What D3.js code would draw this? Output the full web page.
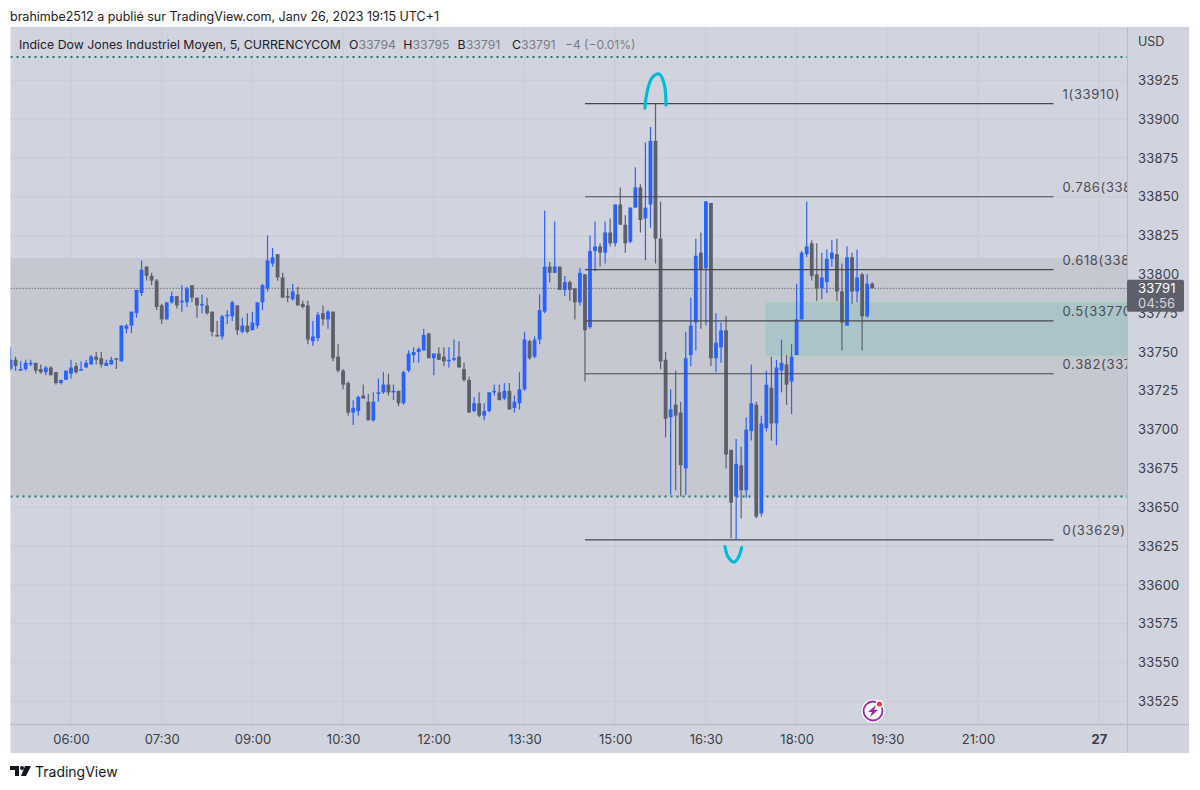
<!DOCTYPE html>
<html>
<head>
<meta charset="utf-8">
<script src="https://cdn.jsdelivr.net/npm/d3@7"></script>
<style>
  html, body { margin: 0; padding: 0; background: #fff; }
  text { font-family: Inter, "Noto Sans", sans-serif; }
</style>
</head>
<body>
<script>
// 5 minute bars from 05:00 to 19:15
let opens = [
  33739,33745,33738,33739,33742,33743,33739,33737,33740,33737,
  33730,33732,33736,33741,33738,33740,33742,33747,33746,33741,
  33742,33746,33744,33765,33767,33775,33788,33805,33799,33796,
  33780,33771,33782,33786,33782,33782,33793,33785,33780,33780,
  33776,33761,33760,33773,33773,33780,33763,33767,33764,33767,
  33782,33791,33807,33813,33798,33786,33784,33787,33781,33780,
  33757,33759,33775,33771,33776,33747,33738,33730,33711,33712,
  33722,33718,33706,33723,33724,33729,33724,33725,33717,33738,
  33748,33750,33751,33762,33746,33749,33747,33744,33745,33747,
  33739,33732,33712,33717,33709,33712,33724,33724,33720,33725,
  33714,33717,33726,33757,33747,33758,33776,33805,33801,33805,
  33790,33795,33791,33782,33800,33766,33815,33818,33814,33827,
  33820,33845,33832,33821,33843,33856,33836,33845,33886,33823,
  33745,33708,33716,33711,33675,33748,33769,33814,33804,33846,
  33746,33753,33764,33687,33657,33677,33661,33699,33716,33646,
  33701,33727,33704,33738,33742,33731,33748,33771,33813,33820,
  33800,33791,33795,33810,33813,33789,33767,33811,33789,33800,
  33773,33794
];
let highs = [
  33753,33747,33744,33745,33745,33743,33742,33741,33741,33737,
  33732,33738,33745,33743,33744,33745,33748,33750,33750,33745,
  33747,33746,33767,33768,33776,33790,33809,33805,33801,33797,
  33781,33782,33789,33786,33793,33792,33793,33785,33787,33785,
  33776,33770,33774,33777,33783,33780,33772,33775,33776,33782,
  33794,33825,33817,33813,33801,33791,33794,33792,33783,33783,
  33770,33776,33780,33777,33776,33755,33739,33731,33719,33722,
  33729,33723,33724,33733,33737,33736,33729,33725,33738,33751,
  33753,33753,33765,33762,33749,33753,33753,33753,33758,33757,
  33743,33734,33721,33724,33717,33724,33729,33729,33730,33730,
  33722,33737,33763,33758,33760,33787,33841,33808,33834,33805,
  33799,33796,33791,33804,33800,33825,33834,33820,33834,33836,
  33845,33856,33838,33843,33869,33858,33885,33895,33910,33847,
  33750,33726,33738,33718,33763,33785,33823,33827,33847,33846,
  33775,33769,33773,33687,33694,33689,33708,33742,33718,33709,
  33738,33747,33745,33758,33748,33755,33794,33815,33847,33822,
  33820,33814,33816,33822,33823,33807,33818,33814,33816,33801,
  33800,33795
];
let lows = [
  33738,33738,33738,33738,33741,33736,33736,33735,33735,33729,
  33729,33732,33733,33736,33738,33740,33742,33742,33740,33741,
  33742,33739,33744,33762,33762,33772,33786,33796,33793,33777,
  33768,33771,33781,33778,33776,33779,33782,33772,33775,33774,
  33760,33760,33758,33768,33770,33761,33762,33762,33764,33765,
  33777,33789,33805,33796,33785,33782,33783,33780,33778,33755,
  33754,33757,33767,33765,33744,33737,33726,33709,33703,33709,
  33720,33706,33705,33718,33723,33722,33719,33715,33716,33737,
  33743,33743,33751,33746,33735,33745,33741,33740,33744,33740,
  33731,33711,33711,33708,33706,33711,33722,33719,33719,33713,
  33711,33713,33725,33745,33746,33755,33775,33795,33801,33790,
  33786,33783,33771,33780,33731,33765,33802,33805,33807,33818,
  33818,33832,33814,33820,33843,33827,33809,33830,33807,33739,
  33695,33658,33661,33657,33658,33741,33751,33765,33767,33741,
  33737,33743,33675,33630,33629,33643,33656,33693,33643,33644,
  33699,33693,33690,33724,33716,33710,33748,33771,33811,33796,
  33783,33784,33788,33805,33783,33751,33767,33781,33782,33751,
  33772,33791
];
let closes = [
  33745,33741,33739,33743,33743,33738,33737,33740,33735,33730,
  33732,33738,33740,33737,33739,33743,33747,33745,33742,33743,
  33745,33745,33767,33767,33776,33790,33803,33799,33796,33779,
  33771,33782,33786,33780,33783,33791,33785,33780,33781,33775,
  33763,33760,33773,33774,33782,33764,33767,33763,33769,33782,
  33793,33809,33811,33798,33785,33785,33789,33780,33779,33758,
  33760,33774,33771,33776,33746,33738,33729,33711,33714,33721,
  33720,33706,33718,33724,33729,33724,33725,33717,33737,33749,
  33750,33752,33761,33746,33749,33745,33744,33745,33746,33740,
  33732,33711,33717,33709,33712,33724,33725,33719,33725,33713,
  33718,33726,33758,33746,33758,33777,33805,33801,33805,33790,
  33795,33790,33782,33801,33764,33815,33818,33814,33827,33820,
  33845,33832,33820,33843,33856,33835,33843,33886,33823,33744,
  33707,33713,33709,33677,33746,33767,33812,33803,33847,33746,
  33756,33764,33684,33653,33678,33661,33700,33717,33644,33704,
  33729,33704,33740,33743,33729,33747,33771,33814,33818,33799,
  33791,33798,33810,33814,33789,33769,33811,33789,33798,33773,
  33794,33791
];

let priceTicks = [33525,33550,33575,33600,33625,33650,33675,33700,33725,33750,33775,33800,33825,33850,33875,33900,33925];
// minutes since midnight, "27" sits where the session break ends
let timeTicks = [360,450,540,630,720,810,900,990,1080,1170,1260,1380];
let timeLabels = ["06:00","07:30","09:00","10:30","12:00","13:30","15:00","16:30","18:00","19:30","21:00","27"];

let fibLevels = ["1","0.786","0.618","0.5","0.382","0"];
let fibPrices = [33910,33850,33803,33770,33736,33629];

let dottedLevels = [33940,33657];
let bandPrices = [33810.5,33657];
let zonePrices = [33782,33747.5];
let lastPrice = 33791;

// brush strokes over the swing high and swing low
let brushHighMin = [929.5,931.5,936.5,943.5,948.5,950.5];
let brushHighPx = [33907,33917,33926.5,33929,33923,33909];
let brushLowMin = [1009,1012,1018,1022.5,1025.5];
let brushLowPx = [33624.6,33618,33614.7,33618,33624];

let width = 1200;
let height = 790;
let left = 10.5;
let paneRight = 1127;
let panelRight = 1189;
let top_ = 27;
let paneBottom = 724;
let panelBottom = 753;

let bg = "#d1d4de";
let blue = "#2962ff";
let grey = "#5d606b";
let gridColour = "#c5c8d2";
let textColour = "#3b3e46";

let x = d3.scaleLinear().domain([360, 1260]).range([71, 978]);
let y = d3.scaleLinear().domain([33750, 33925]).range([352, 80.3]);
let barMinute = (i) => 300 + 5 * i;

let svg = d3.select("body").append("svg")
  .attr("width", width)
  .attr("height", height)
  .style("display", "block");

svg.append("clipPath").attr("id", "pane")
  .append("rect")
  .attr("x", left).attr("y", top_)
  .attr("width", paneRight - left).attr("height", paneBottom - top_);

svg.append("text").attr("x", 10).attr("y", 21)
  .attr("font-size", 12.5).attr("fill", "#1e2026")
  .text("brahimbe2512 a publié sur TradingView.com, Janv 26, 2023 19:15 UTC+1");

svg.append("rect")
  .attr("x", left).attr("y", top_)
  .attr("width", panelRight - left).attr("height", panelBottom - top_)
  .attr("fill", bg);

let pane = svg.append("g").attr("clip-path", "url(#pane)");

// darker band behind the candles
pane.append("rect")
  .attr("x", left).attr("width", paneRight - left)
  .attr("y", y(bandPrices[0]))
  .attr("height", y(bandPrices[1]) - y(bandPrices[0]))
  .attr("fill", "#c5c7d1");

// grid
pane.selectAll(".hgrid").data(priceTicks).join("line")
  .attr("x1", left).attr("x2", paneRight)
  .attr("y1", (d) => y(d)).attr("y2", (d) => y(d))
  .attr("stroke", gridColour).attr("stroke-opacity", 0.75);
pane.selectAll(".vgrid").data(timeTicks).join("line")
  .attr("x1", (d) => x(d)).attr("x2", (d) => x(d))
  .attr("y1", top_).attr("y2", paneBottom)
  .attr("stroke", gridColour).attr("stroke-opacity", 0.75);

// green zone
pane.append("rect")
  .attr("x", x(barMinute(150)) - 0.5)
  .attr("width", paneRight - x(barMinute(150)) + 1)
  .attr("y", y(zonePrices[0]))
  .attr("height", y(zonePrices[1]) - y(zonePrices[0]))
  .attr("fill", "#abc4c9")
  .attr("stroke", "#a6d2ae");

// dotted levels
pane.selectAll(".dots").data(dottedLevels).join("line")
  .attr("x1", left).attr("x2", paneRight)
  .attr("y1", (d) => y(d)).attr("y2", (d) => y(d))
  .attr("stroke", "#1c7a6a").attr("stroke-width", 2)
  .attr("stroke-dasharray", "2 4");

pane.append("line")
  .attr("x1", left).attr("x2", paneRight)
  .attr("y1", y(lastPrice)).attr("y2", y(lastPrice))
  .attr("stroke", "#6d7079").attr("stroke-dasharray", "1.5 1.5");

// candles
let bars = pane.selectAll(".bar").data(d3.range(opens.length)).join("g");
bars.append("line")
  .attr("x1", (i) => x(barMinute(i))).attr("x2", (i) => x(barMinute(i)))
  .attr("y1", (i) => y(highs[i])).attr("y2", (i) => y(lows[i]))
  .attr("stroke", (i) => (closes[i] >= opens[i] ? blue : grey))
  .attr("stroke-width", 1.2);
bars.append("rect")
  .attr("x", (i) => x(barMinute(i)) - 1.9)
  .attr("width", 3.8)
  .attr("y", (i) => y(Math.max(opens[i], closes[i])))
  .attr("height", (i) => Math.max(1, Math.abs(y(opens[i]) - y(closes[i]))))
  .attr("fill", (i) => (closes[i] >= opens[i] ? blue : grey));

// fib retracement, runs from bar 114 to 1054px
let fibStart = x(barMinute(114));
let fibEnd = x(barMinute(207));
pane.selectAll(".fib").data(fibPrices).join("line")
  .attr("x1", fibStart).attr("x2", fibEnd)
  .attr("y1", (d) => y(d)).attr("y2", (d) => y(d))
  .attr("stroke", "#45484f").attr("stroke-width", 1.2);
pane.selectAll(".fibLabel").data(fibPrices).join("text")
  .attr("x", fibEnd + 9)
  .attr("y", (d) => y(d) - 9.5)
  .attr("dy", "0.35em")
  .attr("font-size", 13)
  .attr("letter-spacing", 0.65)
  .attr("fill", "#4a4d55")
  .text((d, i) => `${fibLevels[i]}(${d})`);

// brush strokes
let brush = d3.line()
  .x((d) => x(d[0]))
  .y((d) => y(d[1]))
  .curve(d3.curveCatmullRom);
pane.append("path")
  .attr("d", brush(d3.zip(brushHighMin, brushHighPx)))
  .attr("fill", "none").attr("stroke", "#00bcd4")
  .attr("stroke-width", 3.2).attr("stroke-linecap", "round");
pane.append("path")
  .attr("d", brush(d3.zip(brushLowMin, brushLowPx)))
  .attr("fill", "none").attr("stroke", "#00bcd4")
  .attr("stroke-width", 3.2).attr("stroke-linecap", "round");

// axes
let yAxis = svg.append("g")
  .attr("transform", `translate(${paneRight},0)`)
  .call(d3.axisRight(y).tickValues(priceTicks).tickSize(0).tickPadding(11).tickFormat(d3.format("d")));
yAxis.select(".domain").attr("d", `M0.5,${top_}V${panelBottom}`).attr("stroke", "#b9bcc7");
yAxis.selectAll("text").attr("font-size", 13).attr("letter-spacing", 0.2).attr("fill", textColour).attr("font-family", null);

let xAxis = svg.append("g")
  .attr("transform", `translate(0,${paneBottom})`)
  .call(d3.axisBottom(x).tickValues(timeTicks).tickSize(0).tickPadding(11)
    .tickFormat((d, i) => timeLabels[i]));
xAxis.select(".domain").attr("d", `M${left},0.5H${panelRight}`).attr("stroke", "#b9bcc7").attr("stroke-width", 1.5);
xAxis.selectAll("text").attr("font-size", 13).attr("fill", textColour).attr("font-family", null)
  .attr("font-weight", (d, i) => (timeLabels[i] === "27" ? 700 : 400));

svg.append("text").attr("x", 1138).attr("y", 46)
  .attr("font-size", 12.5).attr("fill", textColour).text("USD");

// last price tag
let tag = svg.append("g");
tag.append("rect")
  .attr("x", paneRight).attr("y", y(lastPrice) - 8.5)
  .attr("width", 57).attr("height", 32).attr("rx", 2)
  .attr("fill", grey);
tag.append("text").attr("x", 1138).attr("y", y(lastPrice) + 0.5)
  .attr("dy", "0.35em").attr("font-size", 13).attr("letter-spacing", 0.2).attr("fill", "#fff")
  .text(lastPrice);
tag.append("text").attr("x", 1138).attr("y", y(lastPrice) + 15)
  .attr("dy", "0.35em").attr("font-size", 13).attr("letter-spacing", 0.2).attr("fill", "#d5d7dd")
  .text("04:56");

// legend line
let legend = svg.append("text").attr("x", 19).attr("y", 49)
  .attr("font-size", 12.3).attr("fill", "#1e2026");
legend.append("tspan").text("Indice Dow Jones Industriel Moyen, 5, CURRENCYCOM");
[["O", "33794"], ["H", "33795"], ["B", "33791"], ["C", "33791"]].forEach((p, i) => {
  legend.append("tspan").attr("x", 349 + i * 54.3).text(p[0]);
  legend.append("tspan").attr("fill", "#787b86").text(p[1]);
});
legend.append("tspan").attr("x", 565).attr("fill", "#787b86").attr("font-size", 12).text("−4 (−0.01%)");

// lightning badge
let badge = svg.append("g").attr("transform", "translate(873,711)");
badge.append("circle").attr("r", 11.5).attr("fill", "#fff");
badge.append("circle").attr("r", 9.5).attr("fill", "none").attr("stroke", "#9c27b0").attr("stroke-width", 1.8);
badge.append("path").attr("d", "M3,-6L-5,1H-1L-3,6L5,-1H1Z").attr("fill", "#9c27b0");
badge.append("circle").attr("cx", 6.5).attr("cy", -7).attr("r", 4).attr("fill", "#fff");
badge.append("circle").attr("cx", 6.5).attr("cy", -7).attr("r", 2.6).attr("fill", "#f23645");

// footer logo
let logo = svg.append("g").attr("transform", "translate(10,766)").attr("fill", "#131722");
logo.append("path").attr("d", "M0,0H9V10H5V4H0Z");
logo.append("circle").attr("cx", 12).attr("cy", 2).attr("r", 2);
logo.append("path").attr("d", "M15,0H21L16,10H11Z");
svg.append("text").attr("x", 35).attr("y", 777)
  .attr("font-size", 14).attr("fill", "#131722").text("TradingView");
</script>
</body>
</html>
